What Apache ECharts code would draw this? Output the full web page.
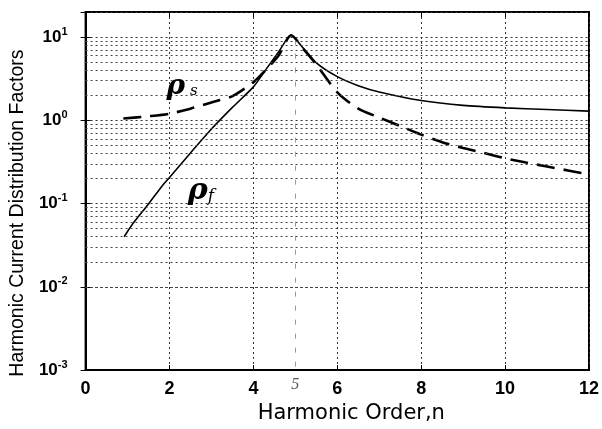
<!DOCTYPE html>
<html>
<head>
<meta charset="utf-8">
<script src="https://cdn.jsdelivr.net/npm/echarts@6/dist/echarts.min.js"></script>
<style>
html,body{margin:0;padding:0;background:#fff;}
#c{width:602px;height:429px;}
</style>
</head>
<body>
<div id="c"></div>
<script>
// ---- data ----
const harmonicOrderF = [0.92, 1.1, 1.5, 1.83, 2.0, 2.5, 3.0, 3.5, 4.0, 4.3, 4.6, 4.9, 5.14, 5.5, 6.0, 6.5, 7.0, 8.0, 9.0, 10.0, 11.0, 12.0];
const rhoF = [0.040, 0.055, 0.099, 0.164, 0.206, 0.405, 0.787, 1.43, 2.52, 4.09, 6.6, 10.5, 7.88, 4.9, 3.35, 2.61, 2.19, 1.73, 1.51, 1.41, 1.35, 1.29];

const harmonicOrderS = [0.9, 1.5, 2.0, 2.5, 3.0, 3.5, 4.0, 4.3, 4.6, 4.9, 5.2, 5.5, 6.0, 6.5, 7.0, 7.5, 8.0, 8.5, 9.0, 9.5, 10.0, 10.5, 11.0, 11.5, 11.9];
const rhoS = [1.05, 1.12, 1.2, 1.38, 1.64, 1.95, 2.87, 4.04, 6.0, 10.5, 7.1, 4.69, 2.17, 1.38, 1.08, 0.853, 0.673, 0.545, 0.466, 0.405, 0.35, 0.311, 0.279, 0.25, 0.229];

const xTickLabels = ['0', '2', '4', '6', '8', '10', '12'];
const yDecades = [-3, -2, -1, 0, 1];
const xTitle = 'Harmonic Order,n';
const yTitle = 'Harmonic Current Distribution Factors';
const markerLabel = '5';

// minor log grid values (2..9 x 10^d)
const minorGrid = [];
yDecades.forEach(function (d) {
  for (let k = 2; k <= 9; k++) {
    const v = k * Math.pow(10, d);
    if (v < 20) minorGrid.push(v);
  }
});

const dataF = harmonicOrderF.map(function (n, i) { return [n, rhoF[i]]; });
const dataS = harmonicOrderS.map(function (n, i) { return [n, rhoS[i]]; });

const chart = echarts.init(document.getElementById('c'));

const gridLine = { type: [2, 3], color: '#333', width: 1 };

chart.setOption({
  animation: false,
  backgroundColor: '#fff',
  grid: { left: 83, right: 13, top: 12, bottom: 56, show: true, borderColor: '#000', borderWidth: 2, backgroundColor: 'transparent' },
  xAxis: [{
    type: 'value', min: 0, max: 12, interval: 2,
    axisLine: { show: true, onZero: false, lineStyle: { color: '#000', width: 2 } },
    axisTick: { show: true, inside: true, length: 5, lineStyle: { color: '#000', width: 1 } },
    axisLabel: {
      fontSize: 18, fontWeight: 'bold', color: '#000', margin: 10, fontFamily: 'Liberation Sans',
      showMinLabel: true, showMaxLabel: true,
      formatter: function (v) { const i = Math.round(v / 2); return xTickLabels[i] || ''; }
    },
    splitLine: { show: true, lineStyle: gridLine },
    name: xTitle, nameLocation: 'middle', nameGap: 31,
    nameTextStyle: { fontFamily: 'DejaVu Sans', fontSize: 21, color: '#000', padding: [0, 0, 0, 28] }
  }, {
    type: 'value', min: 0, max: 12, interval: 2, position: 'top',
    axisLine: { show: false }, axisLabel: { show: false }, splitLine: { show: false },
    axisTick: { show: true, inside: true, length: 5, lineStyle: { color: '#000', width: 1 } }
  }],
  yAxis: [{
    type: 'log', logBase: 10, min: 0.001, max: 20,
    axisLine: { show: true, lineStyle: { color: '#000', width: 2 } },
    axisTick: { show: true, inside: true, length: 5, lineStyle: { color: '#000', width: 1 } },
    axisLabel: {
      color: '#000', margin: 18, fontFamily: 'Liberation Sans',
      formatter: function (v) {
        const l = Math.log10(v);
        const e = Math.round(l);
        if (Math.abs(l - e) > 1e-6 || yDecades.indexOf(e) < 0) return '';
        return '{b|10}{s|' + e + '}';
      },
      rich: {
        b: { fontSize: 17, fontWeight: 'bold', color: '#000', fontFamily: 'Liberation Sans', lineHeight: 22 },
        s: { fontSize: 11, fontWeight: 'bold', color: '#000', fontFamily: 'Liberation Sans', verticalAlign: 'top', lineHeight: 11 }
      }
    },
    splitLine: { show: true, lineStyle: gridLine },
    name: yTitle, nameLocation: 'middle', nameGap: 50, nameRotate: 90,
    nameTextStyle: { fontFamily: 'Liberation Sans', fontSize: 19.5, color: '#000', padding: [0, 44, 0, 0] }
  }, {
    type: 'log', logBase: 10, min: 0.001, max: 20, position: 'right',
    axisLine: { show: false }, axisLabel: { show: false }, splitLine: { show: false },
    axisTick: { show: true, inside: true, length: 5, lineStyle: { color: '#000', width: 1 } }
  }],
  series: [{
    name: 'rho_f', type: 'line', data: dataF, showSymbol: false, symbol: 'none',
    smooth: 0.25,
    lineStyle: { color: '#000', width: 1.6, type: 'solid' },
    markLine: {
      silent: true, symbol: 'none', animation: false,
      label: { show: false },
      lineStyle: { type: [2, 3], color: '#444', width: 1 },
      data: minorGrid.map(function (v) { return { yAxis: v }; }).concat([
        [
          { coord: [5, 0.0011], lineStyle: { type: [5, 9], color: '#999', width: 1 },
            label: { show: true, position: 'start', formatter: markerLabel, fontSize: 16, fontStyle: 'italic', color: '#555', fontFamily: 'Liberation Serif', distance: 10 } },
          { coord: [5, 9] }
        ]
      ])
    },
    markPoint: {
      silent: true, symbol: 'circle', symbolSize: 2,
      itemStyle: { color: 'rgba(0,0,0,0)' },
      data: [
        { coord: [2.75, 0.14], label: { show: true, position: 'inside', formatter: '{r|ρ}{sub|f}', rich: {
          r: { fontSize: 30, fontStyle: 'italic', fontWeight: 'bold', color: '#000', fontFamily: 'DejaVu Serif' },
          sub: { fontSize: 17, fontStyle: 'italic', color: '#000', fontFamily: 'DejaVu Serif', padding: [10, 0, 0, 0] } } } },
        { coord: [2.3, 2.5], label: { show: true, position: 'inside', formatter: '{r|ρ}{sub| s}', rich: {
          r: { fontSize: 28, fontStyle: 'italic', fontWeight: 'bold', color: '#000', fontFamily: 'DejaVu Serif' },
          sub: { fontSize: 15, fontStyle: 'italic', color: '#000', fontFamily: 'DejaVu Serif', padding: [8, 0, 0, 0] } } } }
      ]
    }
  }, {
    name: 'rho_s', type: 'line', data: dataS, showSymbol: false, symbol: 'none',
    smooth: 0.25,
    lineStyle: { color: '#000', width: 2.6, type: [18, 9] }
  }]
});
</script>
</body>
</html>
